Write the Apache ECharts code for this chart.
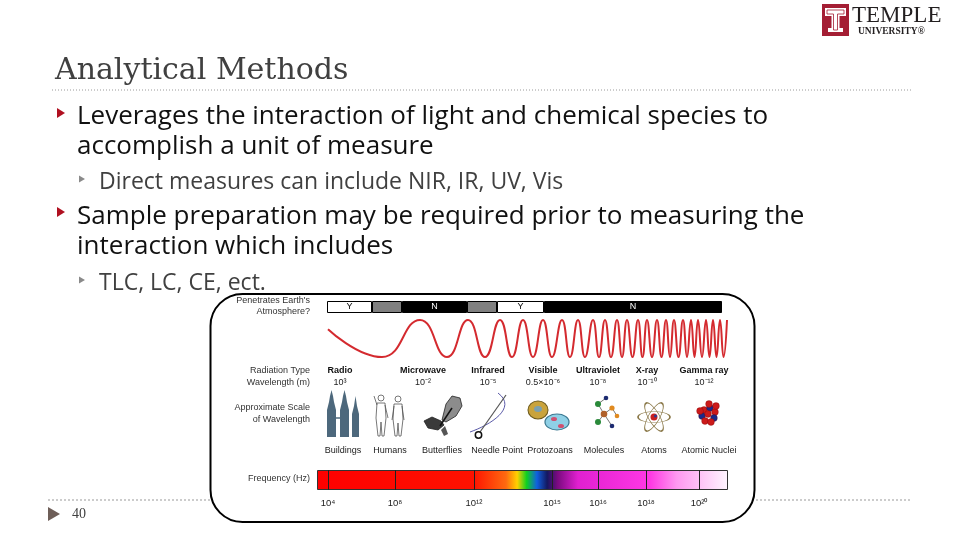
<!DOCTYPE html>
<html>
<head>
<meta charset="utf-8">
<script src="https://cdn.jsdelivr.net/npm/echarts@6.0.0/dist/echarts.min.js"></script>
<style>
  html, body { margin: 0; padding: 0; background: #fff; }
  #main { width: 960px; height: 540px; }
</style>
</head>
<body>
<div id="main"></div>
<script>
"use strict";

// --- data ---
var atmoLabels = ['Y', '', 'N', '', 'Y', 'N'];
var atmoWidths = [45, 30, 65, 30, 47, 178];
var atmoKinds  = ['yes', 'partial', 'no', 'partial', 'yes', 'no'];

var radiationTypes = ['Radio', 'Microwave', 'Infrared', 'Visible', 'Ultraviolet', 'X-ray', 'Gamma ray'];
var wavelengths    = ['10³', '10⁻²', '10⁻⁵', '0.5×10⁻⁶', '10⁻⁸', '10⁻¹⁰', '10⁻¹²'];
var scaleLabels    = ['Buildings', 'Humans', 'Butterflies', 'Needle Point', 'Protozoans', 'Molecules', 'Atoms', 'Atomic Nuclei'];

// frequency ticks, position along the 411-unit colour bar
var freqExponents = [4, 8, 12, 15, 16, 18, 20];
var freqTickPos   = [11, 78, 157, 235, 281, 329, 382];

// spectrum colours along the bar (0..1)
var spectrumStops  = [0, 0.38, 0.46, 0.487, 0.51, 0.535, 0.56, 0.585, 0.635, 0.81, 0.875, 1];
var spectrumColors = ['#ff0000', '#ff1200', '#ff6a10', '#ffd000', '#10d020', '#1060e0', '#141860', '#7a0a80', '#e020d0', '#ff38e4', '#ff98f0', '#fff6ff'];

// wave: extrema positions along the strip (0..410) and their level
var waveX = [8, 62, 100, 127, 148, 165, 180, 192, 203, 213, 223, 232, 242, 250, 258, 265, 273, 279, 285, 291,
             297, 302, 307, 312.5, 318, 322.5, 327, 332, 337, 341.5, 346, 350, 354, 358.5, 363, 367, 371, 374.5,
             378, 382, 386, 389.5, 393, 396.5, 400, 403.5, 407];
var waveY = [0.5, -1, 1, -1, 1, -1, 1, -1, 1, -1, 1, -1, 1, -1, 1, -1, 1, -1, 1, -1,
             1, -1, 1, -1, 1, -1, 1, -1, 1, -1, 1, -1, 1, -1, 1, -1, 1, -1,
             1, -1, 1, -1, 1, -1, 1, -1, 1];

// --- layout ---
var radiationX = [340, 423, 488, 543, 598, 647, 704];
var scaleX     = [343, 390, 442, 497, 550, 604, 654, 709];

var SANS  = '"Open Sans", "Noto Sans", sans-serif';
var FIG   = '"Liberation Sans", Arial, sans-serif';
var SUPS  = {'0':'⁰','1':'¹','2':'²','3':'³','4':'⁴','5':'⁵','6':'⁶','7':'⁷','8':'⁸','9':'⁹','-':'⁻'};
function sup(n) {
    return String(n).split('').map(function(c) { return SUPS[c]; }).join('');
}

function txt(x, y, s, font, fill, align) {
    return {
        type: 'text', x: x, y: y, z: 10, silent: true,
        style: {
            text: s, font: font, fill: fill,
            align: align || 'left', verticalAlign: 'middle',
            textAlign: align || 'left', textVerticalAlign: 'middle'
        }
    };
}
function shape(type, shp, style, extra) {
    var el = { type: type, shape: shp, style: style, z: 10, silent: true };
    if (extra) { for (var k in extra) el[k] = extra[k]; }
    return el;
}
function oval(cx, cy, rx, ry, style, rot) {
    style.strokeNoScale = true;
    return { type: 'circle', z: 10, silent: true, x: cx, y: cy, scaleX: rx, scaleY: ry, rotation: rot || 0,
             shape: { cx: 0, cy: 0, r: 1 }, style: style };
}

var chart = echarts.init(document.getElementById('main'), null, { renderer: 'canvas' });

var graphics = [];

// slide header
graphics.push(shape('rect', { x: 822, y: 4, width: 27, height: 32 }, { fill: '#a41e34' }));
graphics.push(shape('polygon', { points: [[825,8],[846,8],[846,16],[839.5,16],[839.5,28],[843,28],[843,32],[828,32],[828,28],[831.5,28],[831.5,16],[825,16]] }, { fill: '#fff' }));
graphics.push(shape('polyline', { points: [[827,10],[844,10],[844,14],[837.5,14],[837.5,30],[833.5,30],[833.5,14],[827,14],[827,10]] }, { stroke: '#a41e34', lineWidth: 0.8, fill: null }));
graphics.push(txt(852, 16, 'TEMPLE', '23px "Liberation Serif", serif', '#231f20'));
graphics.push(txt(858, 32, 'UNIVERSITY®', 'bold 9.5px "Liberation Serif", serif', '#231f20'));

graphics.push(txt(55, 71, 'Analytical Methods', '30px "DejaVu Serif", serif', '#404040'));
graphics.push(shape('line', { x1: 52, y1: 90, x2: 912, y2: 90 }, { stroke: '#9a9a9a', lineWidth: 1, lineDash: [1, 2] }));

// bullets
var mainBullet = '#b01020', subBullet = '#8a8a8a';
var mainFont = '26px ' + SANS, subFont = '23px ' + SANS;
graphics.push(shape('polygon', { points: [[57,108],[65,113],[57,118]] }, { fill: mainBullet }));
graphics.push(txt(77, 117, 'Leverages the interaction of light and chemical species to', mainFont, '#111'));
graphics.push(txt(77, 147, 'accomplish a unit of measure', mainFont, '#111'));
graphics.push(shape('polygon', { points: [[79,175.5],[85,179],[79,182.5]] }, { fill: subBullet }));
graphics.push(txt(99, 182, 'Direct measures can include NIR, IR, UV, Vis', subFont, '#404040'));
graphics.push(shape('polygon', { points: [[57,207],[65,212],[57,217]] }, { fill: mainBullet }));
graphics.push(txt(77, 217, 'Sample preparation may be required prior to measuring the', mainFont, '#111'));
graphics.push(txt(77, 247, 'interaction which includes', mainFont, '#111'));
graphics.push(shape('polygon', { points: [[79,276.5],[85,280],[79,283.5]] }, { fill: subBullet }));
graphics.push(txt(99, 283, 'TLC, LC, CE, ect.', subFont, '#404040'));

// footer
graphics.push({ type: 'line', z: 0, silent: true, shape: { x1: 48, y1: 500, x2: 912, y2: 500 }, style: { stroke: '#9a9a9a', lineWidth: 1, lineDash: [2, 2] } });
graphics.push(shape('polygon', { points: [[48,507],[60,514],[48,521]] }, { fill: '#6e5e58' }));
graphics.push(txt(72, 514, '40', '14px "Liberation Serif", serif', '#404040'));

// figure frame
graphics.push({ type: 'rect', z: 1, silent: true, shape: { x: 210.5, y: 294, width: 544, height: 228, r: 32 }, style: { fill: '#fff', stroke: '#000', lineWidth: 2 } });

// figure row titles
var rowFont = '9px ' + FIG, rowCol = '#333';
graphics.push(txt(310, 301, "Penetrates Earth's", rowFont, rowCol, 'right'));
graphics.push(txt(310, 312, 'Atmosphere?', rowFont, rowCol, 'right'));
graphics.push(txt(310, 371, 'Radiation Type', rowFont, rowCol, 'right'));
graphics.push(txt(310, 383, 'Wavelength (m)', rowFont, rowCol, 'right'));
graphics.push(txt(310, 408, 'Approximate Scale', rowFont, rowCol, 'right'));
graphics.push(txt(310, 420, 'of Wavelength', rowFont, rowCol, 'right'));
graphics.push(txt(310, 479, 'Frequency (Hz)', rowFont, rowCol, 'right'));

radiationTypes.forEach(function(name, i) {
    graphics.push(txt(radiationX[i], 371, name, 'bold 9px ' + FIG, '#111', 'center'));
    graphics.push(txt(radiationX[i], 383, wavelengths[i], '9px ' + FIG, '#222', 'center'));
});
scaleLabels.forEach(function(name, i) {
    graphics.push(txt(scaleX[i], 451, name, '9px ' + FIG, '#222', 'center'));
});

// scale pictures (rough drawings)
var tower = { fill: '#4d687c' };
graphics.push(shape('polygon', { points: [[327,437],[327,410],[329,402],[330,396],[331.5,390],[333,396],[334,402],[336,410],[336,437]] }, tower));
graphics.push(shape('polygon', { points: [[340,437],[340,410],[342,402],[343,396],[344.5,390],[346,396],[347,402],[349,410],[349,437]] }, tower));
graphics.push(shape('polygon', { points: [[352,437],[352,414],[354,406],[355.5,396],[357,406],[359,414],[359,437]] }, tower));
graphics.push(shape('line', { x1: 336, y1: 418, x2: 340, y2: 418 }, { stroke: '#4d687c', lineWidth: 1.5 }));

var human = { stroke: '#555', lineWidth: 0.8, fill: '#fff' };
var limb = { stroke: '#555', lineWidth: 0.8, fill: null };
graphics.push(shape('circle', { cx: 381, cy: 398, r: 3 }, human));
graphics.push(shape('polygon', { points: [[377,403],[385,403],[386,418],[384,436],[382,436],[381,422],[380,436],[378,436],[376,418]] }, human));
graphics.push(shape('polyline', { points: [[377,405],[374,396]] }, limb));
graphics.push(shape('polyline', { points: [[385,405],[388,418]] }, limb));
graphics.push(shape('circle', { cx: 398, cy: 399, r: 3 }, human));
graphics.push(shape('polygon', { points: [[394,404],[402,404],[403,419],[401,436],[399,436],[398,423],[397,436],[395,436],[393,419]] }, human));
graphics.push(shape('polyline', { points: [[394,406],[392,420]] }, limb));
graphics.push(shape('polyline', { points: [[402,406],[404,420]] }, limb));

graphics.push(shape('polygon', { points: [[442,420],[446,404],[452,396],[460,398],[462,406],[456,416],[446,422]] }, { fill: '#8c8c8c', stroke: '#222', lineWidth: 0.8 }));
graphics.push(shape('polygon', { points: [[441,421],[432,417],[424,421],[428,428],[438,430],[444,425]] }, { fill: '#3a3a3a', stroke: '#222', lineWidth: 0.8 }));
graphics.push(shape('polygon', { points: [[445,426],[448,434],[444,436],[441,430]] }, { fill: '#555' }));
graphics.push(shape('line', { x1: 440, y1: 426, x2: 452, y2: 408 }, { stroke: '#111', lineWidth: 1.5 }));

graphics.push(shape('bezierCurve', { x1: 470, y1: 432, cpx1: 490, cpy1: 425, cpx2: 518, cpy2: 408, x2: 498, y2: 393 }, { stroke: '#5a5aa8', lineWidth: 1, fill: null }));
graphics.push(shape('line', { x1: 480, y1: 432, x2: 506, y2: 395 }, { stroke: '#555', lineWidth: 1.2 }));
graphics.push(shape('circle', { cx: 478.5, cy: 435, r: 3.2 }, { fill: '#fff', stroke: '#111', lineWidth: 1.5 }));

graphics.push(oval(538, 410, 10, 9, { fill: '#c9a33c', stroke: '#6d5a1c', lineWidth: 1 }));
graphics.push(oval(538, 409, 4, 3, { fill: '#7aa0b0' }));
graphics.push(oval(557, 422, 12, 8, { fill: '#8fd0e6', stroke: '#3b7890', lineWidth: 1 }));
graphics.push(oval(554, 419, 3, 2, { fill: '#d05070' }));
graphics.push(oval(561, 426, 3, 2, { fill: '#d05070' }));

var bond = { stroke: '#777', lineWidth: 1, fill: null };
graphics.push(shape('polyline', { points: [[606,398],[598,404],[604,414],[612,408],[617,416]] }, bond));
graphics.push(shape('polyline', { points: [[598,422],[604,414],[612,426]] }, bond));
graphics.push(shape('circle', { cx: 598, cy: 404, r: 3 }, { fill: '#2a8a3a' }));
graphics.push(shape('circle', { cx: 606, cy: 398, r: 2.3 }, { fill: '#1c2a70' }));
graphics.push(shape('circle', { cx: 612, cy: 408, r: 2.6 }, { fill: '#e08a20' }));
graphics.push(shape('circle', { cx: 604, cy: 414, r: 3.3 }, { fill: '#b0602a' }));
graphics.push(shape('circle', { cx: 598, cy: 422, r: 3 }, { fill: '#2a8a3a' }));
graphics.push(shape('circle', { cx: 617, cy: 416, r: 2.3 }, { fill: '#e08a20' }));
graphics.push(shape('circle', { cx: 612, cy: 426, r: 2.3 }, { fill: '#1c2a70' }));

[0, Math.PI / 3, -Math.PI / 3].forEach(function(rot) {
    graphics.push(oval(654, 417, 16, 5.5, { fill: null, stroke: '#8a7848', lineWidth: 1 }, rot));
});
graphics.push(shape('circle', { cx: 654, cy: 417, r: 3.5 }, { fill: '#c82020' }));
graphics.push(shape('circle', { cx: 655.5, cy: 416, r: 1.5 }, { fill: '#2a3a90' }));

var nuc = [[704,410,'#cc1a1a'],[710,408,'#1a2a8a'],[715,412,'#cc1a1a'],[702,416,'#1a2a8a'],[708,414,'#cc1a1a'],
           [714,418,'#1a2a8a'],[705,421,'#cc1a1a'],[711,422,'#cc1a1a'],[700,411,'#cc1a1a'],[716,406,'#cc1a1a'],[709,404,'#cc1a1a']];
nuc.forEach(function(n) {
    graphics.push(shape('circle', { cx: n[0], cy: n[1], r: 3.4 }, { fill: n[2], stroke: '#600', lineWidth: 0.3 }));
});

// --- series ---
var atmoColor = { yes: '#ffffff', partial: '#808080', no: '#000000' };
var atmoText  = { yes: '#000', partial: '#000', no: '#fff' };
var series = atmoLabels.map(function(lbl, i) {
    return {
        type: 'bar', name: 'atm' + i, stack: 'atm',
        xAxisIndex: 0, yAxisIndex: 0,
        barWidth: '100%', silent: true,
        data: [atmoWidths[i]],
        itemStyle: { color: atmoColor[atmoKinds[i]], borderColor: '#000', borderWidth: 1 },
        label: { show: lbl !== '', position: 'inside', formatter: lbl, color: atmoText[atmoKinds[i]], fontSize: 9, fontFamily: FIG }
    };
});

series.push({
    type: 'line', name: 'wave',
    xAxisIndex: 1, yAxisIndex: 1,
    data: waveX.map(function(x, i) { return [x, waveY[i]]; }),
    smooth: true, symbol: 'none', clip: false, silent: true,
    lineStyle: { color: '#d42a2f', width: 2 }
});

series.push({
    type: 'bar', name: 'frequency',
    xAxisIndex: 2, yAxisIndex: 2,
    data: [411], barWidth: '100%', silent: true,
    itemStyle: {
        color: new echarts.graphic.LinearGradient(0, 0, 1, 0, spectrumStops.map(function(s, i) {
            return { offset: s, color: spectrumColors[i] };
        })),
        borderColor: '#333', borderWidth: 1
    },
    markLine: {
        silent: true, symbol: ['none', 'none'], animation: false,
        lineStyle: { color: '#222', width: 1, type: 'solid' },
        label: { position: 'start', distance: 8, color: '#222', fontSize: 9.5, fontFamily: FIG },
        data: freqTickPos.map(function(p, i) {
            return { xAxis: p, label: { formatter: '10' + sup(freqExponents[i]) } };
        })
    }
});

var option = {
    backgroundColor: '#fff',
    animation: false,
    grid: [
        { left: 327, top: 301, width: 395, height: 12 },
        { left: 320, top: 319, width: 410, height: 39 },
        { left: 317, top: 470, width: 411, height: 20 }
    ],
    xAxis: [
        { gridIndex: 0, type: 'value', min: 0, max: 395, show: false },
        { gridIndex: 1, type: 'value', min: 0, max: 410, show: false },
        { gridIndex: 2, type: 'value', min: 0, max: 411, show: false }
    ],
    yAxis: [
        { gridIndex: 0, type: 'category', data: ['atm'], show: false },
        { gridIndex: 1, type: 'value', min: -1.05, max: 1.05, show: false },
        { gridIndex: 2, type: 'category', data: ['freq'], show: false }
    ],
    graphic: graphics,
    series: series
};

chart.setOption(option, true);
</script>
</body>
</html>
